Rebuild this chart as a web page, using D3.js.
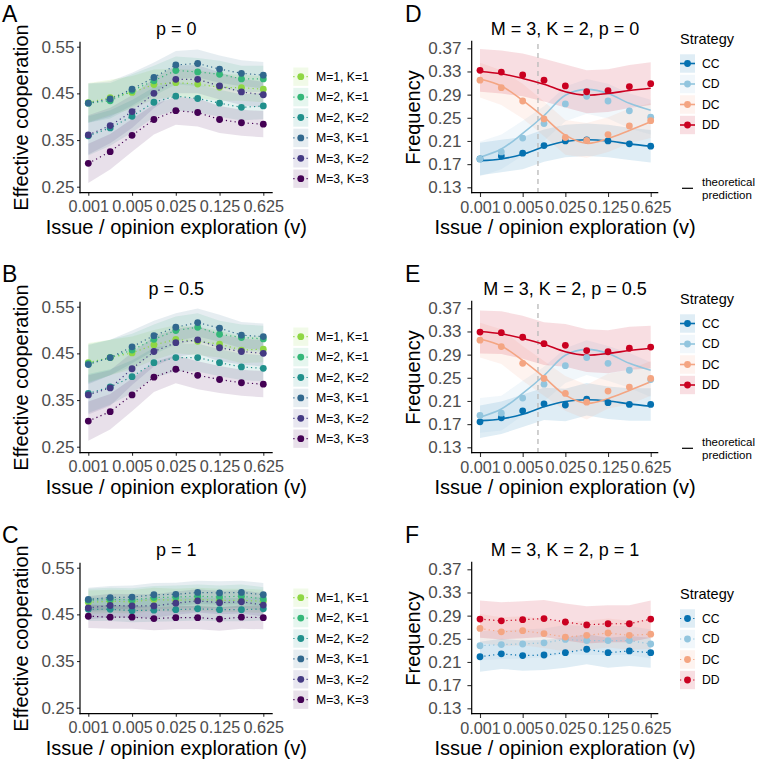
<!DOCTYPE html>
<html><head><meta charset="utf-8">
<script src="https://cdn.jsdelivr.net/npm/d3@7"></script>
<style>body{margin:0;background:#fff} svg{display:block}</style>
</head><body><svg id="chart" width="760" height="762"></svg>
<script>
// ---------- data ----------
const vValues = [0.001, 0.002236, 0.005, 0.01118, 0.025, 0.0559, 0.125, 0.2795, 0.625];
const vTicks = [0.001, 0.005, 0.025, 0.125, 0.625];
const vThreshold = 0.0089;
const coopTicks = [0.25, 0.35, 0.45, 0.55];
const freqTicks = [0.13, 0.17, 0.21, 0.25, 0.29, 0.33, 0.37];

const groups = ["M=1, K=1", "M=2, K=1", "M=2, K=2", "M=3, K=1", "M=3, K=2", "M=3, K=3"];
const groupColors = ["#8FD744", "#35B779", "#21908C", "#31688E", "#443A83", "#440154"];

const coopP0 = [
  [0.430, 0.441, 0.452, 0.469, 0.473, 0.470, 0.463, 0.462, 0.459],
  [0.429, 0.434, 0.456, 0.477, 0.499, 0.496, 0.491, 0.481, 0.481],
  [0.359, 0.376, 0.401, 0.431, 0.444, 0.439, 0.429, 0.420, 0.423],
  [0.429, 0.438, 0.459, 0.484, 0.511, 0.514, 0.502, 0.493, 0.489],
  [0.361, 0.381, 0.411, 0.450, 0.480, 0.480, 0.466, 0.453, 0.447],
  [0.300, 0.325, 0.360, 0.394, 0.413, 0.409, 0.394, 0.387, 0.384]
];
const coopP05 = [
  [0.430, 0.441, 0.451, 0.468, 0.480, 0.476, 0.470, 0.457, 0.459],
  [0.428, 0.441, 0.457, 0.480, 0.499, 0.506, 0.491, 0.484, 0.481],
  [0.364, 0.378, 0.400, 0.430, 0.441, 0.441, 0.430, 0.421, 0.418],
  [0.426, 0.441, 0.464, 0.488, 0.506, 0.516, 0.504, 0.489, 0.486],
  [0.361, 0.376, 0.417, 0.454, 0.473, 0.479, 0.462, 0.454, 0.450],
  [0.305, 0.325, 0.361, 0.399, 0.416, 0.403, 0.394, 0.387, 0.384]
];
const coopP1 = [
  [0.476, 0.478, 0.477, 0.482, 0.480, 0.482, 0.480, 0.480, 0.478],
  [0.480, 0.482, 0.481, 0.486, 0.487, 0.489, 0.487, 0.489, 0.483],
  [0.461, 0.461, 0.458, 0.459, 0.460, 0.462, 0.460, 0.460, 0.462],
  [0.482, 0.486, 0.487, 0.492, 0.493, 0.497, 0.496, 0.497, 0.492],
  [0.464, 0.469, 0.468, 0.468, 0.474, 0.479, 0.475, 0.477, 0.470],
  [0.446, 0.444, 0.444, 0.441, 0.443, 0.443, 0.440, 0.444, 0.443]
];
const coopBandP0 = [0.042, 0.038, 0.035, 0.032, 0.030, 0.030, 0.029, 0.028, 0.028];
const coopBandP05 = [0.042, 0.038, 0.035, 0.032, 0.030, 0.030, 0.029, 0.028, 0.028];
const coopBandP1 = [0.025, 0.025, 0.025, 0.025, 0.025, 0.025, 0.025, 0.025, 0.025];

const strategies = ["CC", "CD", "DC", "DD"];
const strategyColors = ["#0571B0", "#92C5DE", "#F4A582", "#CA0020"];

const freqP0 = [
  [0.179, 0.184, 0.189, 0.202, 0.210, 0.212, 0.210, 0.205, 0.201],
  [0.179, 0.191, 0.215, 0.240, 0.274, 0.287, 0.279, 0.262, 0.251],
  [0.315, 0.302, 0.279, 0.248, 0.216, 0.211, 0.221, 0.236, 0.245],
  [0.332, 0.329, 0.324, 0.315, 0.305, 0.295, 0.297, 0.304, 0.309]
];
const freqP05 = [
  [0.174, 0.181, 0.193, 0.205, 0.203, 0.213, 0.207, 0.204, 0.204],
  [0.185, 0.189, 0.215, 0.239, 0.271, 0.285, 0.275, 0.263, 0.247],
  [0.315, 0.304, 0.275, 0.249, 0.223, 0.208, 0.227, 0.234, 0.249],
  [0.329, 0.328, 0.320, 0.309, 0.306, 0.297, 0.295, 0.301, 0.303]
];
const freqP1 = [
  [0.219, 0.224, 0.221, 0.222, 0.226, 0.232, 0.226, 0.229, 0.226],
  [0.238, 0.240, 0.241, 0.243, 0.249, 0.247, 0.247, 0.247, 0.241],
  [0.268, 0.262, 0.264, 0.259, 0.253, 0.256, 0.260, 0.256, 0.258],
  [0.284, 0.281, 0.283, 0.285, 0.279, 0.274, 0.276, 0.276, 0.284]
];
const theoryFreq = [
  [0.176, 0.179, 0.187, 0.200, 0.209, 0.212, 0.210, 0.205, 0.201],
  [0.182, 0.196, 0.223, 0.254, 0.289, 0.299, 0.292, 0.275, 0.263],
  [0.317, 0.305, 0.280, 0.251, 0.220, 0.206, 0.214, 0.228, 0.243],
  [0.330, 0.326, 0.318, 0.308, 0.295, 0.289, 0.292, 0.297, 0.301]
];
const freqBandP0 = [0.028, 0.030, 0.030, 0.037];
const freqBandP05 = [0.028, 0.030, 0.030, 0.037];
const freqBandP1 = [0.026, 0.025, 0.025, 0.032];

// ---------- drawing ----------
const FONT = '"Liberation Sans", Arial, Helvetica, sans-serif';
const svg = d3.select("#chart");
const rowDy = [0, 260, 521];

function txt(g, x, y, s, size, opts = {}) {
  const t = g.append("text").attr("x", x).attr("y", y).text(s)
    .style("font-family", FONT).style("font-size", size + "px")
    .attr("fill", opts.fill || "#000");
  if (opts.anchor) t.attr("text-anchor", opts.anchor);
  if (opts.dy) t.attr("dy", opts.dy);
  if (opts.rotate) t.attr("transform", `rotate(-90,${x},${y})`);
  return t;
}

function drawAxes(g, x, y, geo, yTicks) {
  const xa = g.append("g").attr("transform", `translate(0,${geo.bottom})`)
    .call(d3.axisBottom(x).tickValues(vTicks).tickFormat(d3.format(".3f")).tickSize(geo.tick).tickPadding(geo.xPad));
  const ya = g.append("g").attr("transform", `translate(${geo.axisX},0)`)
    .call(d3.axisLeft(y).tickValues(yTicks).tickFormat(d3.format(".2f")).tickSize(geo.tick).tickPadding(geo.yPad));
  [xa, ya].forEach(a => {
    a.select(".domain").remove();
    a.selectAll(".tick line").attr("stroke", "#333").attr("stroke-width", 1.1);
  });
  xa.selectAll(".tick text").attr("fill", "#4D4D4D").style("font-size", "16.2px").style("font-family", FONT);
  ya.selectAll(".tick text").attr("fill", "#4D4D4D").style("font-size", "17px").style("font-family", FONT);
  g.append("line").attr("x1", geo.axisX).attr("x2", geo.axisX).attr("y1", geo.top).attr("y2", geo.bottom + 0.6)
    .attr("stroke", "#000").attr("stroke-width", 1.2);
  g.append("line").attr("x1", geo.axisX - 0.6).attr("x2", geo.right).attr("y1", geo.bottom).attr("y2", geo.bottom)
    .attr("stroke", "#000").attr("stroke-width", 1.2);
}

function coopPanel(row, letter, title, data, band) {
  const g = svg.append("g").attr("transform", `translate(0,${rowDy[row]})`);
  const geo = {axisX: 80, right: 272.7, top: 41.7, bottom: 192.7, tick: 3, xPad: 5, yPad: 2.5};
  const x = d3.scaleLog().domain([vValues[0], vValues[8]]).range([88.3, 263.3]);
  const y = d3.scaleLinear().domain([0.25, 0.55]).range([186.7, 46.7]);
  const area = d3.area().x((d, i) => x(vValues[i]))
    .y0((d, i) => y(d - band[i])).y1((d, i) => y(d + band[i]));
  const line = d3.line().x((d, i) => x(vValues[i])).y(d => y(d));
  data.forEach((vals, k) => g.append("path").datum(vals).attr("d", area)
    .attr("fill", groupColors[k]).attr("fill-opacity", 0.12));
  data.forEach((vals, k) => g.append("path").datum(vals).attr("d", line)
    .attr("fill", "none").attr("stroke", groupColors[k]).attr("stroke-width", 1.2)
    .attr("stroke-dasharray", "1.2,3.2"));
  data.forEach((vals, k) => g.append("g").selectAll("circle").data(vals).join("circle")
    .attr("cx", (d, i) => x(vValues[i])).attr("cy", d => y(d)).attr("r", 3.4)
    .attr("fill", groupColors[k]));
  drawAxes(g, x, y, geo, coopTicks);
  txt(g, 2, 21.5, letter, 23);
  txt(g, 176.3, 35, title, 18, {anchor: "middle"});
  txt(g, 28, 117.5, "Effective cooperation", 20, {anchor: "middle", rotate: true});
  txt(g, 176.3, 234, "Issue / opinion exploration (v)", 20, {anchor: "middle"});
  // legend
  groups.forEach((name, k) => {
    const cy = 76.7 + k * 20.4;
    g.append("rect").attr("x", 293.3).attr("y", cy - 9.2).attr("width", 15).attr("height", 18.4)
      .attr("fill", groupColors[k]).attr("fill-opacity", 0.12);
    g.append("line").attr("x1", 293.3).attr("x2", 308.3).attr("y1", cy).attr("y2", cy)
      .attr("stroke", groupColors[k]).attr("stroke-width", 1.2).attr("stroke-dasharray", "1.2,3.2");
    g.append("circle").attr("cx", 300.8).attr("cy", cy).attr("r", 3.4).attr("fill", groupColors[k]);
    txt(g, 316, cy, name, 12.2, {dy: "0.35em"});
  });
}

function freqPanel(row, letter, title, data, band, showTheory) {
  const g = svg.append("g").attr("transform", `translate(0,${rowDy[row]})`);
  const geo = {axisX: 471.7, right: 658.3, top: 40.7, bottom: 192.7, tick: 4.3, xPad: 5, yPad: 6};
  const x = d3.scaleLog().domain([vValues[0], vValues[8]]).range([480, 650.7]);
  const y = d3.scaleLinear().domain([0.13, 0.37]).range([187.3, 48.3]);
  const area = (k) => d3.area().x((d, i) => x(vValues[i]))
    .y0(d => y(d - band[k])).y1(d => y(d + band[k]));
  const line = d3.line().x((d, i) => x(vValues[i])).y(d => y(d));
  data.forEach((vals, k) => g.append("path").datum(vals).attr("d", area(k))
    .attr("fill", strategyColors[k]).attr("fill-opacity", 0.13));
  if (showTheory) {
    g.append("line").attr("x1", x(vThreshold)).attr("x2", x(vThreshold)).attr("y1", 44).attr("y2", 192)
      .attr("stroke", "#BDBDBD").attr("stroke-width", 1.4).attr("stroke-dasharray", "5,4");
    const curve = d3.line().x((d, i) => x(vValues[i])).y(d => y(d)).curve(d3.curveCatmullRom.alpha(0.5));
    theoryFreq.forEach((vals, k) => g.append("path").datum(vals).attr("d", curve)
      .attr("fill", "none").attr("stroke", strategyColors[k]).attr("stroke-width", 1.6));
  } else {
    data.forEach((vals, k) => g.append("path").datum(vals).attr("d", line)
      .attr("fill", "none").attr("stroke", strategyColors[k]).attr("stroke-width", 1.2)
      .attr("stroke-dasharray", "1.2,3.2"));
  }
  data.forEach((vals, k) => g.append("g").selectAll("circle").data(vals).join("circle")
    .attr("cx", (d, i) => x(vValues[i])).attr("cy", d => y(d)).attr("r", 3.4)
    .attr("fill", strategyColors[k]));
  drawAxes(g, x, y, geo, freqTicks);
  txt(g, 405, 21.5, letter, 23);
  txt(g, 565, 35, title, 18, {anchor: "middle"});
  txt(g, 420, 117.5, "Frequency", 20, {anchor: "middle", rotate: true});
  txt(g, 565, 234, "Issue / opinion exploration (v)", 20, {anchor: "middle"});
  // legend
  const titleY = showTheory ? 43.5 : 77.5;
  txt(g, 680, titleY, "Strategy", 14.5);
  strategies.forEach((name, k) => {
    const cy = titleY + 20 + k * 20.5;
    g.append("rect").attr("x", 680).attr("y", cy - 9.2).attr("width", 15).attr("height", 18.4)
      .attr("fill", strategyColors[k]).attr("fill-opacity", 0.13);
    const l = g.append("line").attr("x1", 680).attr("x2", 695).attr("y1", cy).attr("y2", cy)
      .attr("stroke", strategyColors[k]).attr("stroke-width", showTheory ? 1.6 : 1.2);
    if (!showTheory) l.attr("stroke-dasharray", "1.2,3.2");
    g.append("circle").attr("cx", 687.5).attr("cy", cy).attr("r", 3.4).attr("fill", strategyColors[k]);
    txt(g, 702, cy, name, 12.2, {dy: "0.35em"});
  });
  if (showTheory) {
    g.append("line").attr("x1", 682).attr("x2", 693).attr("y1", 188.3).attr("y2", 188.3)
      .attr("stroke", "#000").attr("stroke-width", 1.2);
    txt(g, 702, 185.5, "theoretical", 11.5);
    txt(g, 702, 199, "prediction", 11.5);
  }
}

coopPanel(0, "A", "p = 0", coopP0, coopBandP0);
coopPanel(1, "B", "p = 0.5", coopP05, coopBandP05);
coopPanel(2, "C", "p = 1", coopP1, coopBandP1);
freqPanel(0, "D", "M = 3, K = 2, p = 0", freqP0, freqBandP0, true);
freqPanel(1, "E", "M = 3, K = 2, p = 0.5", freqP05, freqBandP05, true);
freqPanel(2, "F", "M = 3, K = 2, p = 1", freqP1, freqBandP1, false);
</script></body></html>
